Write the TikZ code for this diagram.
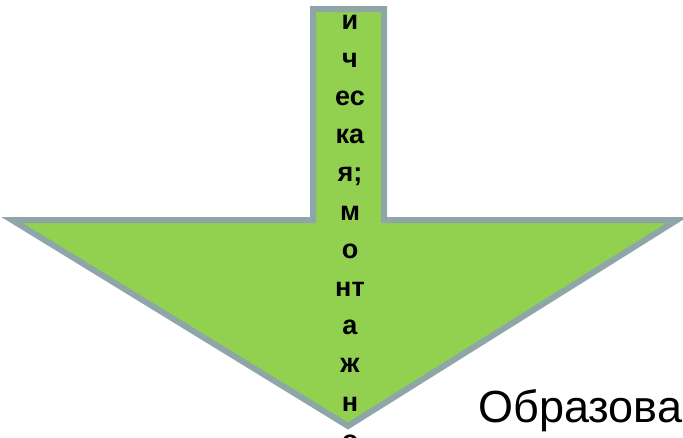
\documentclass[tikz,border=0pt]{standalone}
\usepackage{fontspec}
\setmainfont{Liberation Sans}
\definecolor{arrowgreen}{RGB}{146,208,80}
\definecolor{arrowrim}{RGB}{143,166,168}
\tikzset{
    shaftword/.style={font=\fontsize{27}{30}\selectfont\bfseries, inner sep=0pt, anchor=base},
    sideword/.style={font=\fontsize{45}{50}\selectfont, inner sep=0pt, anchor=base west},
}

\begin{document}
\begin{tikzpicture}[x=1pt, y=-1pt]
\useasboundingbox (0,0) rectangle (683,437);
\clip (0,0) rectangle (683,437);
\fill[white] (0,0) rectangle (683,437);
% big arrow
\filldraw[color=arrowrim, fill=arrowgreen, line width=6pt]
    (313,9) -- (384,9) -- (384,220) -- (677,220) -- (348,426) -- (12,220) -- (313,220) -- cycle;
% text in the shaft
\foreach \t [count=\i] in {и,ч,ес,ка,я;,м,о,нт,а,ж,н,о}
    \node[shaftword] (w\i) at (350, {29+38.2*(\i-1)}) {\t};
\node[sideword] (side) at (478,422) {Образова};
\end{tikzpicture}
\end{document}
